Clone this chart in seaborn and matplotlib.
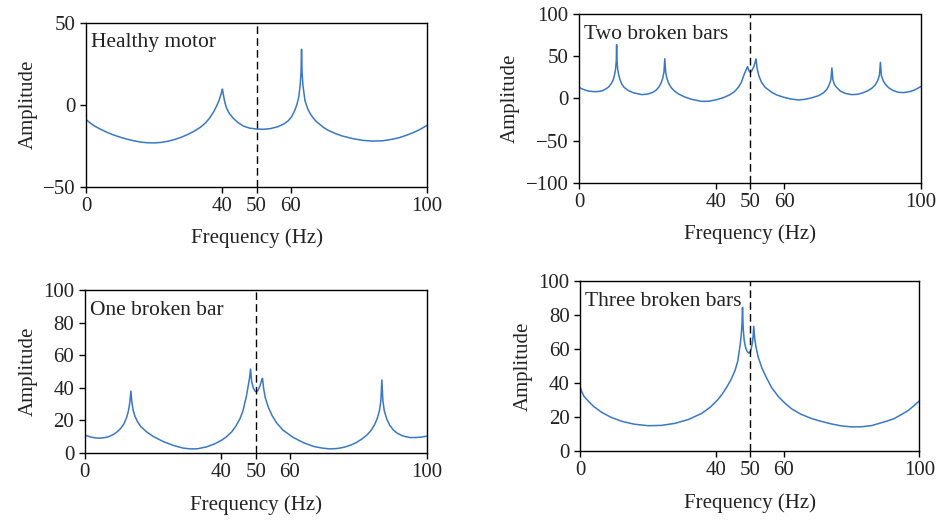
import matplotlib
matplotlib.use("Agg")
import matplotlib.pyplot as plt
import seaborn as sns

# Healthy motor
freq_healthy = [0, 1, 2, 3, 4, 6, 8, 10, 12, 14, 16, 18, 20, 22, 24, 26, 28, 30, 32, 33.5,
                35, 36.2, 37.3, 38, 38.6, 39.1, 39.5, 39.8, 40, 40.2, 40.5, 40.8, 41.2, 42,
                43.2, 44.5, 46.1, 48, 50, 52, 54, 56, 58, 59.3, 60.3, 61, 61.8, 62.4, 62.8,
                63.05, 63.2, 63.35, 63.6, 64.2, 65, 65.7, 66.5, 67.6, 69.6, 71, 73, 75, 78,
                81, 84, 87, 90, 92, 94, 96, 98, 100]
amp_healthy = [-9, -10.8, -12.3, -13.6, -14.7, -16.7, -18.4, -19.8, -21, -22, -22.8, -23.2,
               -23.3, -23, -22.3, -21.2, -19.8, -18, -15.8, -13.8, -11.2, -8.3, -4.8, -2,
               0.6, 3.2, 5.8, 8, 9.5, 7, 3.5, 0.8, -2, -5.3, -8.3, -10.8, -13, -14.3, -14.8,
               -15, -14.6, -13.6, -11.8, -9.8, -7.3, -4.5, -0.2, 5, 12, 20, 33.8, 20, 12, 2.5,
               -2.5, -5.3, -7.8, -10.4, -13.8, -15.6, -17.5, -19, -20.6, -21.7, -22.2, -22,
               -21, -20, -18.6, -17, -15, -12.6]

# One broken bar
freq_one = [0, 1, 2, 3, 4, 5.5, 7, 8.5, 9.5, 10.5, 11.5, 12.3, 12.8, 13.2, 13.5, 13.8, 14.2,
            14.7, 15.5, 16.5, 18.1, 20, 23, 26, 28.8, 31, 33, 35.7, 38, 40, 41.5, 43, 44.2,
            45.4, 46.3, 47.3, 47.8, 48.2, 48.5, 48.8, 49.3, 49.8, 50.2, 50.7, 51.3, 51.8, 52,
            52.3, 52.8, 53.7, 54.8, 56.1, 58, 61, 64, 67, 69.5, 71.7, 74, 76, 78, 79.5, 81,
            82.5, 83.8, 84.8, 85.6, 86.2, 86.6, 86.9, 87.2, 87.6, 88.3, 89.2, 90.3, 91.5, 93,
            95, 97, 98.5, 100]
amp_one = [11, 10.3, 9.7, 9.3, 9.1, 9.3, 10, 11.5, 13, 15, 18, 22, 26, 31, 38, 31, 26,
           22.5, 19, 16, 13, 10.2, 7, 4.6, 3, 2.5, 2.6, 3.8, 5.6, 7.8, 10, 13, 16.5,
           21, 26, 35, 41, 46, 51.5, 44, 40, 38, 37.5, 38.5, 41.5, 45, 45.8,
           40, 34, 28, 23, 18.5, 14, 9.5, 6.3, 4, 3, 2.5, 2.8, 3.6, 5, 6.5, 8.5,
           11, 14, 17.5, 21.5, 26, 32, 44.8, 32, 26, 21, 17, 14, 12, 10.5,
           9.5, 9.5, 9.8, 10.3]

# Two broken bars
freq_two = [0, 1, 2, 3, 4.7, 6, 7, 8, 8.8, 9.5, 10, 10.4, 10.7, 10.9, 11, 11.1, 11.3, 11.6,
            12, 12.5, 13.2, 14.5, 16, 18.4, 20, 21.5, 22.5, 23.3, 24, 24.5, 24.85, 25.1,
            25.35, 25.7, 26.2, 27, 28, 29.1, 31, 33, 35.9, 38, 40, 42, 44, 45.5, 46.6, 47.5,
            48.2, 48.8, 49.3, 49.7, 50.1, 50.6, 51.2, 51.6, 51.8, 52.1, 52.6, 53.4, 54.5,
            56.4, 58, 60, 62, 64.2, 66, 68, 70.1, 71.5, 72.5, 73.2, 73.7, 74, 74.3, 74.8,
            75.4, 76.5, 78, 79.8, 81.5, 83, 84.5, 85.7, 86.7, 87.4, 87.9, 88.2, 88.5, 89,
            89.6, 90.5, 91.8, 93.5, 95, 97, 98.5, 100]
amp_two = [13, 11, 9.5, 8.5, 7.9, 8.3, 9.3, 11.5, 14, 18, 22, 28, 35, 45, 63.7, 45, 35, 28,
           22, 17, 13, 9.1, 6.5, 4.4, 5, 7, 9.5, 13, 18, 24, 31, 47,
           31, 24, 18, 12.5, 8.5, 5.2, 1.5, -1.2, -3.6, -3.4, -1.8, 0.5, 4, 8, 13, 19,
           27, 33, 37.6, 33, 30.8, 33, 38, 44, 46.7, 36, 27, 19, 13,
           7.1, 3.8, 1.2, -0.8, -1.9, -1.2, 0.5, 3.2, 6.5, 10.5, 16, 22, 36, 22, 16,
           13, 8.5, 5.8, 4.4, 4.8, 6.5, 9, 12, 16, 21, 27, 42.7, 27, 21,
           17, 13, 9.5, 7.1, 6.8, 8.2, 10.5, 13.9]

# Three broken bars
freq_three = [0, 0.5, 1.2, 2.5, 4, 6.4, 9, 12.3, 16, 20.1, 24, 28, 32, 35.9, 38.5, 40.5,
              41.8, 43.2, 44.5, 45.7, 46.5, 47.2, 47.5, 47.75, 47.9, 48.1, 48.4, 48.8, 49.3,
              49.8, 50.3, 50.7, 51, 51.2, 51.5, 51.9, 52.5, 53.6, 55, 56.5, 58.5, 60.5, 62.4,
              65, 68, 70.3, 74, 77, 80.1, 83, 86, 89.9, 92.5, 95, 96.8, 98.3, 99.3, 100]
amp_three = [38.1, 35, 32.2, 29.3, 26.3, 22.8, 20, 17.5, 15.8, 14.9, 15.1, 16.3, 18.6, 22.2,
             26, 30, 33.2, 37.5, 42, 47.5, 53, 62.6, 68, 75, 84.7, 72, 65, 61, 58.5,
             57.7, 59, 62.5, 67, 73.5, 66, 61, 55.5, 49, 43, 37.3, 32, 28, 24.8,
             21.8, 19.3, 17.9, 16, 14.8, 14.2, 14.3, 15, 17.3, 19, 21.8, 24, 26.5, 28.3, 29.5]

x_ticks = [0, 40, 50, 60, 100]

sns.set_theme(style="ticks")
plt.rcParams["font.family"] = ["Liberation Serif", "DejaVu Serif"]
plt.rcParams["font.size"] = 15
plt.rcParams["axes.linewidth"] = 1.0

fig = plt.figure(figsize=(9.4, 5.24), dpi=100)

panels = [
    ([0.0915, 0.6437, 0.3628, 0.313], freq_healthy, amp_healthy, "Healthy motor", (-50, 50), [-50, 0, 50]),
    ([0.616, 0.6513, 0.3635, 0.322], freq_two, amp_two, "Two broken bars", (-100, 100), [-100, -50, 0, 50, 100]),
    ([0.0901, 0.1355, 0.3638, 0.311], freq_one, amp_one, "One broken bar", (0, 100), [0, 20, 40, 60, 80, 100]),
    ([0.617, 0.1393, 0.361, 0.3238], freq_three, amp_three, "Three broken bars", (0, 100), [0, 20, 40, 60, 80, 100]),
]

for rect, f, a, label, ylim, yticks in panels:
    ax = fig.add_axes(rect)
    sns.lineplot(x=f, y=a, ax=ax, color="#3a78c3", linewidth=1.1)
    ax.axvline(50, color="black", linestyle=(0, (5.5, 3)), linewidth=1.0)
    ax.set_xlim(0, 100)
    ax.set_ylim(*ylim)
    ax.set_xticks(x_ticks)
    ax.set_yticks(yticks)
    ax.tick_params(labelsize=15, length=4, width=1, color="black", labelcolor="#222222")
    ax.set_xlabel("Frequency (Hz)", fontsize=15, labelpad=9, color="#222222")
    ax.set_ylabel("Amplitude", fontsize=15, color="#222222")
    for sp in ax.spines.values():
        sp.set_color("black")
    ax.text(0.015, 0.935, label, transform=ax.transAxes, fontsize=15.5,
            va="top", ha="left", color="#222222")

fig.savefig("out.png", dpi=100)
